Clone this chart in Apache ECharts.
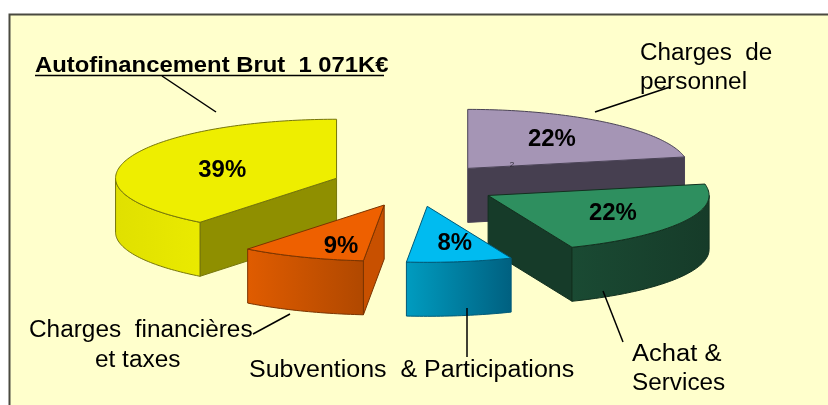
<!DOCTYPE html>
<html>
<head>
<meta charset="utf-8">
<title>Autofinancement</title>
<script src="https://cdn.jsdelivr.net/npm/echarts@6/dist/echarts.min.js"></script>
<style>
  html, body { margin: 0; padding: 0; background: #fff; }
  #chart { width: 828px; height: 405px; }
</style>
</head>
<body>
<div id="chart"></div>
<script>
// clockwise from 12 o'clock
const categories = ['Charges de personnel', 'Achat & Services', 'Subventions & Participations', 'Charges financières et taxes', 'Autofinancement Brut'];
const values = [21.9, 21.9, 7.7, 9.1, 39.4];
const percentLabels = ['22%', '22%', '8%', '9%', '39%'];

const topColors = ['#A595B5', '#2E8F5F', '#00BBF0', '#EE6000', '#EEEE00'];
const faceColors = ['#463F50', '#163B29', '#006C8C', '#C85000', '#8F8F00'];
const arcColors = [
  ['#463F50', '#463F50'],
  ['#1A4A33', '#163B29'],
  ['#009CC0', '#006080'],
  ['#E05C00', '#B04800'],
  ['#E0E000', '#EAEA00']
];
const edgeColors = ['#4A4356', '#12301F', '#005A78', '#7A3400', '#76760A'];
// small shifts of the % labels, in px
const labelNudge = [[0, -1], [8, 2], [8, 4], [6, 10], [11, 4]];

// pie in screen space, the near half of the ellipse is a bit flatter
const pie = { cx: 415, cy: 185.5, rx: 221, ryBack: 59, ryFront: 56, explode: 83, depth: 54, labelAt: 0.6 };

const total = values.reduce((a, b) => a + b, 0);
const starts = [];
values.reduce((acc, v, i) => { starts[i] = acc; return acc + v; }, 0);

function toAngle(v) { return v / total * Math.PI * 2; }

function ellipsePoint(c, a, r) {
  const cos = Math.cos(a);
  const ry = cos < 0 ? pie.ryFront : pie.ryBack;
  return [c[0] + pie.rx * r * Math.sin(a), c[1] - ry * r * cos];
}

function sliceCentre(i) {
  const mid = toAngle(starts[i] + values[i] / 2);
  const k = pie.explode / pie.rx;
  return ellipsePoint([pie.cx, pie.cy], mid, k);
}

function arcPoints(c, a0, a1) {
  const pts = [];
  const n = Math.max(2, Math.ceil((a1 - a0) / 0.02));
  for (let i = 0; i <= n; i++) pts.push(ellipsePoint(c, a0 + (a1 - a0) * i / n, 1));
  return pts;
}

function shifted(pts) {
  return pts.map(p => [p[0], p[1] + pie.depth]);
}

function renderSlice(params, api) {
  const i = api.value(0);
  const a0 = toAngle(starts[i]);
  const a1 = toAngle(starts[i] + values[i]);
  const c = sliceCentre(i);
  const stroke = edgeColors[i];
  const children = [];

  // radial faces, only those turned toward the viewer
  [[a0, Math.sin(a0) < -1e-6], [a1, Math.sin(a1) > 1e-6]].forEach(f => {
    if (!f[1]) return;
    const p = ellipsePoint(c, f[0], 1);
    children.push({
      type: 'polygon',
      shape: { points: [c, p, [p[0], p[1] + pie.depth], [c[0], c[1] + pie.depth]] },
      style: { fill: faceColors[i], stroke: stroke, lineWidth: 1 }
    });
  });

  // outer wall on the front half of the ellipse
  const f0 = Math.max(a0, Math.PI / 2);
  const f1 = Math.min(a1, Math.PI * 1.5);
  if (f1 > f0) {
    const arc = arcPoints(c, f0, f1);
    children.push({
      type: 'polygon',
      shape: { points: arc.concat(shifted(arc).reverse()) },
      style: {
        fill: new echarts.graphic.LinearGradient(0, 0, 1, 0, [
          { offset: 0, color: arcColors[i][0] },
          { offset: 1, color: arcColors[i][1] }
        ]),
        stroke: stroke,
        lineWidth: 1
      }
    });
  }

  // top
  children.push({
    type: 'polygon',
    shape: { points: [c].concat(arcPoints(c, a0, a1)) },
    style: { fill: topColors[i], stroke: stroke, lineWidth: 1 }
  });

  const lp = ellipsePoint(c, (a0 + a1) / 2, pie.labelAt);
  children.push({
    type: 'text',
    x: lp[0] + labelNudge[i][0],
    y: lp[1] + labelNudge[i][1],
    scaleX: 1.04,
    style: {
      x: 0, y: 0,
      text: percentLabels[i],
      fill: '#000',
      font: 'bold 23px "Liberation Sans", Arial, sans-serif',
      textAlign: 'center',
      textVerticalAlign: 'middle'
    }
  });
  return { type: 'group', children: children };
}

// back to front
const drawOrder = values.map((v, i) => i).sort((p, q) => sliceCentre(p)[1] - sliceCentre(q)[1]);

const notes = [
  { text: 'Charges  de', x: 640, y: 65, sx: 1.056 },
  { text: 'personnel', x: 640, y: 94, sx: 1.06 },
  { text: 'Achat &', x: 632, y: 366, sx: 1.11 },
  { text: 'Services', x: 632, y: 395, sx: 1.057 },
  { text: 'Subventions  & Participations', x: 249, y: 382, sx: 1.087 },
  { text: 'Charges  financières', x: 29, y: 342, sx: 1.06 },
  { text: 'et taxes', x: 95, y: 372, sx: 1.06 }
];
const leaders = [
  [162, 76, 216, 112],
  [253, 334, 290, 314],
  [467, 308, 467, 357],
  [603, 291, 623, 342],
  [595, 112, 670, 87]
];

const graphics = [
  {
    type: 'rect', z: -1, silent: true,
    shape: { x: 9.5, y: 14.5, width: 830, height: 400 },
    style: { fill: '#FFFFCC', stroke: '#4A4A40', lineWidth: 2 }
  },
  {
    type: 'text', z: 10, x: 35, y: 77, scaleX: 1.083,
    style: {
      x: 0, y: 0, text: 'Autofinancement Brut  1 071K€', fill: '#000',
      font: 'bold 22px "Liberation Sans", Arial, sans-serif',
      textAlign: 'left', textVerticalAlign: 'bottom'
    }
  },
  {
    type: 'line', z: 10,
    shape: { x1: 35, y1: 75.5, x2: 384, y2: 75.5 },
    style: { stroke: '#000', lineWidth: 1.5 }
  },
  {
    type: 'text', z: 10,
    style: {
      x: 512, y: 165, text: '2', fill: '#2C2833',
      font: '8px "Liberation Sans", Arial, sans-serif',
      textAlign: 'center', textVerticalAlign: 'middle'
    }
  }
];
notes.forEach(n => graphics.push({
  type: 'text', z: 10, x: n.x, y: n.y, scaleX: n.sx,
  style: {
    x: 0, y: 0, text: n.text, fill: '#000',
    font: '23px "Liberation Sans", Arial, sans-serif',
    textAlign: 'left', textVerticalAlign: 'bottom'
  }
}));
leaders.forEach(l => graphics.push({
  type: 'line', z: 10,
  shape: { x1: l[0], y1: l[1], x2: l[2], y2: l[3] },
  style: { stroke: '#000', lineWidth: 1.5 }
}));

const chart = echarts.init(document.getElementById('chart'));
chart.setOption({
  animation: false,
  backgroundColor: '#fff',
  graphic: graphics,
  series: [{
    type: 'custom',
    coordinateSystem: 'none',
    silent: true,
    renderItem: renderSlice,
    data: drawOrder.map(i => ({ name: categories[i], value: [i] }))
  }]
});
</script>
</body>
</html>
